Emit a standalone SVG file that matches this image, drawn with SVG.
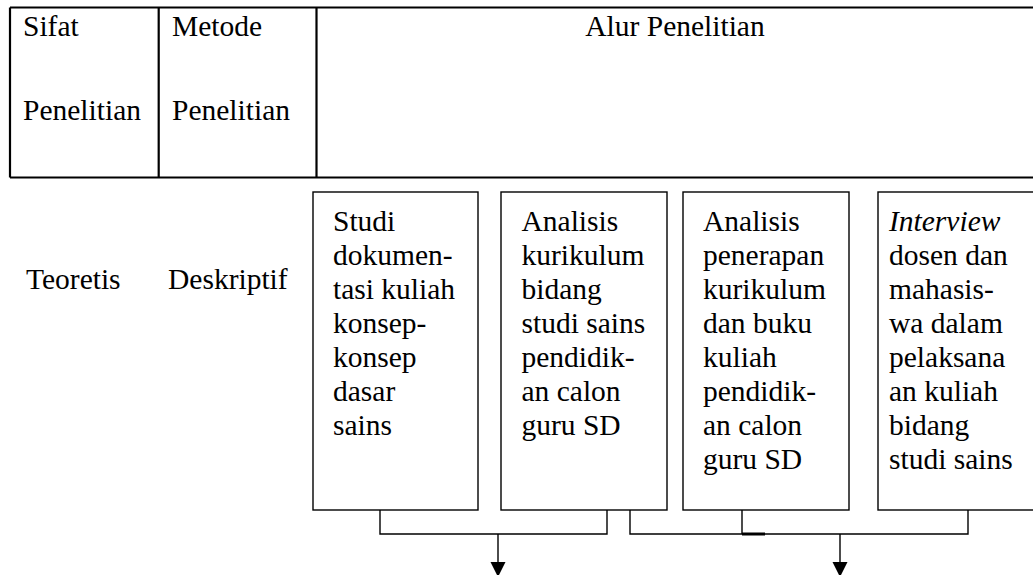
<svg xmlns="http://www.w3.org/2000/svg" width="1033" height="575" viewBox="0 0 1033 575" font-family="'Liberation Serif', 'DejaVu Serif', serif" font-size="29.5">
<defs>
<style>
text, tspan{font-family:'Liberation Serif','DejaVu Serif',serif;font-size:29.5px;fill:#000}
.tbl{stroke:#000;stroke-width:2.2;fill:none}
.box{stroke:#000;stroke-width:1.4;fill:#fff}
.con{stroke:#000;stroke-width:1.4;fill:none}
</style>
</defs>
<rect width="1033" height="575" fill="#fff"/>
<g id="table">
<path class="tbl" d="M10 7.5H1040M10 177.5H1040M10 7.5V177.5M158.7 7.5V177.5M316.5 7.5V177.5"/>
<text x="23" y="36">Sifat</text>
<text x="23" y="120">Penelitian</text>
<text x="172" y="36">Metode</text>
<text x="172" y="120">Penelitian</text>
<text x="675" y="36" text-anchor="middle">Alur Penelitian</text>
<text x="26" y="289">Teoretis</text>
<text x="168" y="289">Deskriptif</text>
</g>
<g id="box1">
<rect class="box" x="313" y="192" width="165" height="318"/>
<text><tspan x="333" y="231">Studi</tspan><tspan x="333" y="265">dokumen-</tspan><tspan x="333" y="299">tasi kuliah</tspan><tspan x="333" y="333">konsep-</tspan><tspan x="333" y="367">konsep</tspan><tspan x="333" y="401">dasar</tspan><tspan x="333" y="435">sains</tspan></text>
</g>
<g id="box2">
<rect class="box" x="501" y="192" width="166" height="318"/>
<text><tspan x="521.5" y="231">Analisis</tspan><tspan x="521.5" y="265">kurikulum</tspan><tspan x="521.5" y="299">bidang</tspan><tspan x="521.5" y="333">studi sains</tspan><tspan x="521.5" y="367">pendidik-</tspan><tspan x="521.5" y="401">an calon</tspan><tspan x="521.5" y="435">guru SD</tspan></text>
</g>
<g id="box3">
<rect class="box" x="683" y="192" width="166" height="318"/>
<text><tspan x="703" y="231">Analisis</tspan><tspan x="703" y="265">penerapan</tspan><tspan x="703" y="299">kurikulum</tspan><tspan x="703" y="333">dan buku</tspan><tspan x="703" y="367">kuliah</tspan><tspan x="703" y="401">pendidik-</tspan><tspan x="703" y="435">an calon</tspan><tspan x="703" y="469">guru SD</tspan></text>
</g>
<g id="box4">
<rect class="box" x="878" y="192" width="170" height="318"/>
<text><tspan x="889" y="231" font-style="italic">Interview</tspan><tspan x="889" y="265">dosen dan</tspan><tspan x="889" y="299">mahasis-</tspan><tspan x="889" y="333">wa dalam</tspan><tspan x="889" y="367">pelaksana</tspan><tspan x="889" y="401">an kuliah</tspan><tspan x="889" y="435">bidang</tspan><tspan x="889" y="469">studi sains</tspan></text>
</g>
<g id="connectors">
<path class="con" d="M380 510V534H607V510"/>
<path class="con" d="M630 510V534H968V510M742 510V534"/>
<path d="M742 534H765" stroke="#000" stroke-width="3"/>
<path class="con" d="M498 534V564"/>
<path d="M490.5 562H505.5L498 577Z" fill="#000"/>
<path class="con" d="M840 534V564"/>
<path d="M832.5 562H847.5L840 577Z" fill="#000"/>
</g>
</svg>
